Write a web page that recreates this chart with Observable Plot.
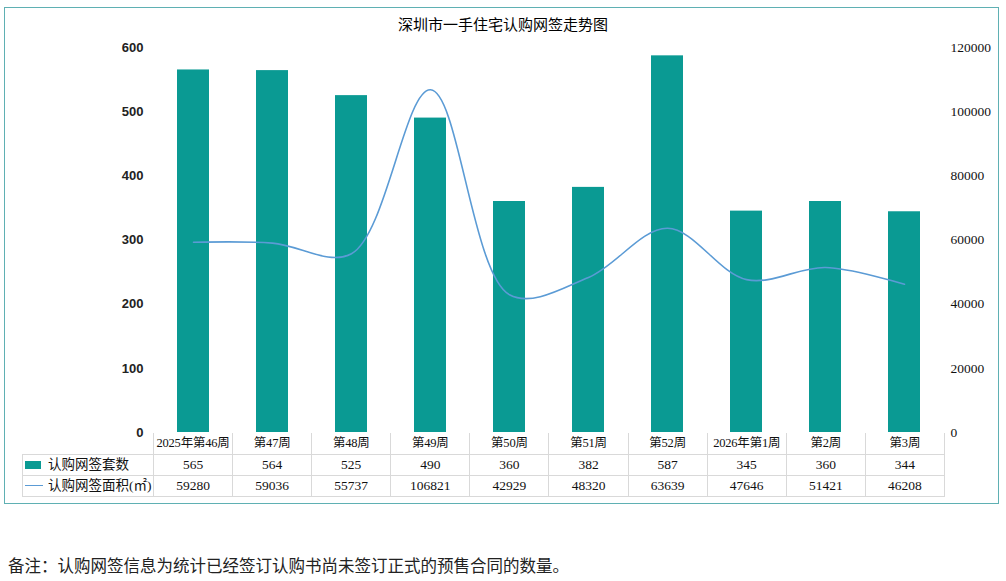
<!DOCTYPE html>
<html><head><meta charset="utf-8">
<script src="https://cdn.jsdelivr.net/npm/d3@7"></script>
<script src="https://cdn.jsdelivr.net/npm/@observablehq/plot@0.6"></script>
<style>
body{margin:0;background:#fff;}
#wrap{position:relative;width:1006px;height:581px;overflow:hidden;font-family:"Liberation Serif","Noto Sans CJK SC",serif;color:#111;}
#frame{position:absolute;left:4px;top:7px;width:995px;height:497px;border:1.5px solid #5fb0b3;box-sizing:border-box;}
#title{position:absolute;left:0;top:13px;width:1006px;text-align:center;font-size:15px;font-weight:normal;color:#000;}
#chart{position:absolute;left:0;top:0;}
#tbl{position:absolute;left:22px;top:433px;width:922px;border-collapse:collapse;font-size:13.5px;table-layout:fixed;}
#tbl td{border:1px solid #d9d9d9;text-align:center;padding:0;height:20px;line-height:20px;white-space:nowrap;overflow:visible;}
#tbl tr.hd td{height:21px;line-height:21px;font-size:12.5px;letter-spacing:-0.2px;}
#tbl td.lab{text-align:left;padding-left:2px;}
#tbl tr.hd td{border-top:none;}
#tbl tr.hd td.blank{border:none;}
#note{position:absolute;left:8px;top:553px;font-size:16.5px;color:#222;}
.key1{display:inline-block;width:16px;height:8px;background:#0a9a93;margin-right:7px;vertical-align:middle;position:relative;top:-1px;}
.key2{display:inline-block;width:18px;height:0;border-top:1.5px solid #5b9bd5;margin-right:5px;vertical-align:middle;position:relative;top:-1px;}
</style></head>
<body>
<div id="wrap">
<div id="frame"></div>
<div id="title"></div>
<div id="chart"></div>
<table id="tbl"></table>
<div id="note"></div>
</div>
<script>
const titleText = "深圳市一手住宅认购网签走势图";
const weeks = ["2025年第46周","第47周","第48周","第49周","第50周","第51周","第52周","2026年第1周","第2周","第3周"];
const units = [565,564,525,490,360,382,587,345,360,344];
const areas = [59280,59036,55737,106821,42929,48320,63639,47646,51421,46208];
const seriesNames = ["认购网签套数","认购网签面积(㎡)"];
const leftTicks = [0,100,200,300,400,500,600];
const ratio = 200; // right axis 0-120000 vs left 0-600
const noteText = "备注：认购网签信息为统计已经签订认购书尚未签订正式的预售合同的数量。";

const data = weeks.map((w,i)=>({week:w, units:units[i], area:areas[i]}));

document.getElementById("title").textContent = titleText;
document.getElementById("note").textContent = noteText;

const chart = Plot.plot({
  width: 1006,
  height: 505,
  marginLeft: 153,
  marginRight: 62,
  marginTop: 47,
  marginBottom: 73,
  style: {background:"transparent", overflow:"visible"},
  x: {domain: weeks, paddingInner: 0.6, paddingOuter: 0.3, axis: null},
  y: {domain: [0,600], axis: null},
  marks: [
    Plot.barY(data, {x:"week", y:"units", fill:"#0a9a93"}),
    Plot.line(data, {x:"week", y: d => d.area/ratio, stroke:"#5b9bd5", strokeWidth:1.6, curve:"catmull-rom"}),
    Plot.axisY(leftTicks, {anchor:"left", label:null, tickSize:0, tickPadding:10, fontSize:13, fontWeight:"bold", fontFamily:"Liberation Sans, Arial, sans-serif", fill:"#222"}),
    Plot.axisY(leftTicks, {anchor:"right", label:null, tickSize:0, tickPadding:6, tickFormat: d => String(d*ratio), fontSize:13.5, fontFamily:"Liberation Serif, serif", fill:"#111"})
  ]
});
document.getElementById("chart").appendChild(chart);

// data table
const tbl = document.getElementById("tbl");
const colW = (1006-62-153)/weeks.length;
const cg = document.createElement("colgroup");
const c0 = document.createElement("col"); c0.style.width = (153-22)+"px"; cg.appendChild(c0);
weeks.forEach(()=>{const c=document.createElement("col"); c.style.width=colW+"px"; cg.appendChild(c);});
tbl.appendChild(cg);
const tr0 = document.createElement("tr"); tr0.className="hd";
const b = document.createElement("td"); b.className="blank"; tr0.appendChild(b);
weeks.forEach(w=>{const td=document.createElement("td"); td.textContent=w; tr0.appendChild(td);});
tbl.appendChild(tr0);
[[units,"key1"],[areas,"key2"]].forEach(([arr,k],ri)=>{
  const tr=document.createElement("tr");
  const td0=document.createElement("td"); td0.className="lab";
  td0.innerHTML = `<span class="${k}"></span>`; td0.appendChild(document.createTextNode(seriesNames[ri]));
  tr.appendChild(td0);
  arr.forEach(v=>{const td=document.createElement("td"); td.textContent=v; tr.appendChild(td);});
  tbl.appendChild(tr);
});
</script>
</body></html>
